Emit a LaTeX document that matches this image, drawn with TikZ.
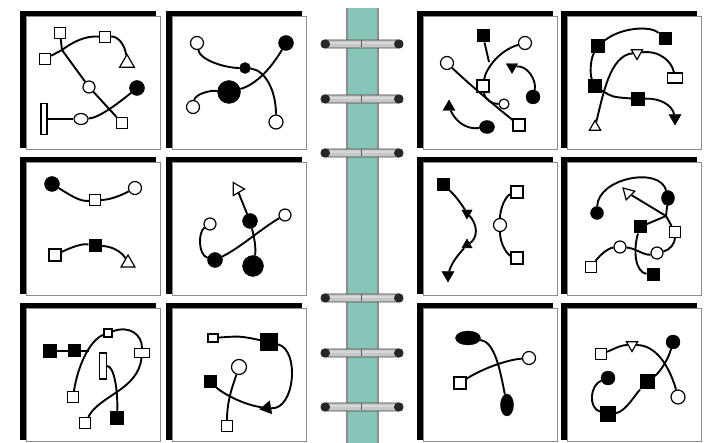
\documentclass[tikz,border=0pt]{standalone}
\usetikzlibrary{shapes.geometric}
\definecolor{spine}{HTML}{86C5B8}
\tikzset{
  cn/.style={line width=1.9pt},
  osq/.style={draw, fill=white, rectangle, minimum size=11pt, inner sep=0pt, line width=1.2pt},
  bsq/.style={draw, fill=black, rectangle, minimum size=12pt, inner sep=0pt, line width=1pt},
  oc/.style={draw, fill=white, circle, minimum size=12pt, inner sep=0pt, line width=1.2pt},
  bc/.style={draw, fill=black, circle, minimum size=13pt, inner sep=0pt},
  oel/.style={draw, fill=white, ellipse, inner sep=0pt, line width=1.2pt},
  bel/.style={draw, fill=black, ellipse, inner sep=0pt},
  otri/.style={draw, fill=white, regular polygon, regular polygon sides=3, minimum size=15pt, inner sep=0pt, line width=1.2pt},
  btri/.style={draw, fill=black, regular polygon, regular polygon sides=3, minimum size=15pt, inner sep=0pt},
}
\newcommand{\mypanel}[2]{%
  \fill[black] (#1,#2) rectangle ++(136,137);
  \draw[draw=black!45, fill=white, line width=1pt] ([shift={(6,6)}]#1,#2) rectangle ++(134,133);
}
\newcommand{\myring}[1]{%
  \draw[draw=black!75, fill=black!22, line width=0.9pt, rounded corners=3.5pt] (321,#1-4) rectangle (403,#1+4);
  \draw[white!85!black, line width=1.2pt] (330,#1-1) -- (394,#1-1);
  \fill[black!85] (325.5,#1) circle (4.5pt);
  \fill[black!85] (398.5,#1) circle (4.5pt);
  \draw[black!65, line width=0.8pt] (361,#1-3.5) -- (361,#1+3.5);
}
\begin{document}
\begin{tikzpicture}[x=1pt,y=-1pt]
\useasboundingbox (0,0) rectangle (707,443);
\fill[white] (0,0) rectangle (707,443);

% panels
\foreach \px in {20,166,417,561}{
  \foreach \py in {11,157,303}{
    \mypanel{\px}{\py}
  }
}

% spine and rings
\fill[spine] (347,8) rectangle (378,443);
\draw[black!45, line width=1.6pt] (347,8) -- (347,443) (378,8) -- (378,443);
\foreach \ry in {44,99,153,298,353,407}{\myring{\ry}}

% ---------- panel row1 col1
\node[osq] (a1) at (60,33) {};
\node[osq] (a2) at (45,59) {};
\node[osq] (a3) at (105,37) {};
\node[otri, minimum size=17pt] (a4) at (127,63) {};
\node[oc] (a5) at (89,87) {};
\node[bc, minimum size=15pt] (a6) at (137,88) {};
\node[oel, minimum width=14pt, minimum height=11pt] (a7) at (81,119) {};
\node[osq] (a8) at (122,123) {};
\node[osq, minimum width=6pt, minimum height=31pt] (a9) at (44,119) {};
\coordinate (aj) at (62,50);
\draw[cn] (a1) -- (aj) (a2) -- (aj) -- (a5) -- (a8);
\draw[cn] (aj) .. controls (78,38) and (90,36) .. (a3);
\draw[cn] (a3) .. controls (118,36) and (125,45) .. (a4);
\draw[cn] (a9) -- (a7);
\draw[cn] (a7) .. controls (98,118) and (115,106) .. (a6);

% ---------- panel row1 col2
\node[oc, minimum size=13pt] (b1) at (197,43) {};
\node[bc, minimum size=11pt] (b2) at (245,68) {};
\node[bc, minimum size=15pt] (b3) at (286,43) {};
\node[bc, minimum size=23pt] (b4) at (229,92) {};
\node[oc, minimum size=13pt] (b5) at (193,107) {};
\node[oc, minimum size=14pt] (b6) at (276,122) {};
\draw[cn] (b1) .. controls (200,60) and (225,68) .. (b2);
\draw[cn] (b2) .. controls (265,70) and (276,90) .. (b6);
\draw[cn] (b3) .. controls (270,70) and (255,85) .. (b4);
\draw[cn] (b4) .. controls (208,90) and (195,95) .. (b5);

% ---------- panel row1 col3
\node[bsq] (c1) at (483,36) {};
\node[oc, minimum size=13pt] (c2) at (525,43) {};
\node[oc, minimum size=13pt] (c3) at (447,63) {};
\node[btri, minimum size=13pt, shape border rotate=180] (c4) at (512,67) {};
\node[osq, minimum size=12pt] (c5) at (483,86) {};
\node[bc, minimum size=14pt] (c6) at (533,97) {};
\node[oc, minimum size=10pt] (c7) at (504,104) {};
\node[btri, minimum size=14pt] (c8) at (449,107) {};
\node[bel, minimum width=15pt, minimum height=13pt] (c9) at (487,127) {};
\node[osq, minimum size=12pt] (c10) at (519,125) {};
\coordinate (cj) at (489,62);
\draw[cn] (c2) .. controls (500,50) and (486,68) .. (c5);
\draw[cn] (c1) -- (cj);
\draw[cn] (c5) .. controls (485,100) and (492,104) .. (c7);
\draw[cn] (c3) .. controls (470,85) and (500,110) .. (c10);
\draw[cn] (c6) .. controls (537,80) and (527,65) .. (c4);
\draw[cn] (c9) .. controls (465,130) and (455,120) .. (c8);

% ---------- panel row1 col4
\node[bsq, minimum size=13pt] (d1) at (598,46) {};
\node[bsq] (d2) at (665,39) {};
\node[otri, minimum size=13pt, shape border rotate=180] (d3) at (637,53) {};
\node[osq, minimum width=15pt, minimum height=10pt] (d4) at (675,78) {};
\node[bsq, minimum size=13pt] (d5) at (595,86) {};
\node[bsq, minimum size=13pt] (d6) at (638,99) {};
\node[btri, minimum size=14pt, shape border rotate=180] (d7) at (675,118) {};
\node[otri, minimum size=13pt] (d8) at (595,127) {};
\draw[cn] (d1) .. controls (620,28) and (650,25) .. (d2);
\draw[cn] (d1) .. controls (590,60) and (590,75) .. (d5);
\draw[cn] (d8) .. controls (603,95) and (610,55) .. (d3);
\draw[cn] (d3) .. controls (660,50) and (672,62) .. (d4);
\draw[cn] (d5) .. controls (612,97) .. (d6);
\draw[cn] (d6) .. controls (660,98) and (672,105) .. (d7);

% ---------- panel row2 col1
\node[bc, minimum size=15pt] (e1) at (52,184) {};
\node[osq] (e2) at (95,200) {};
\node[oc, minimum size=13pt] (e3) at (135,188) {};
\node[osq, minimum size=12pt] (e4) at (55,255) {};
\node[bsq] (e5) at (95,246) {};
\node[otri, minimum size=16pt] (e6) at (128,263) {};
\draw[cn] (e1) .. controls (70,195) and (80,202) .. (e2);
\draw[cn] (e2) .. controls (110,200) and (122,195) .. (e3);
\draw[cn] (e4) .. controls (70,248) and (82,243) .. (e5);
\draw[cn] (e5) .. controls (112,246) and (122,252) .. (e6);

% ---------- panel row2 col2
\node[otri, minimum size=15pt, shape border rotate=30] (f1) at (237,189) {};
\node[bc, minimum size=15pt] (f2) at (250,221) {};
\node[oc, minimum size=12pt] (f3) at (285,215) {};
\node[oc, minimum size=12pt] (f4) at (210,224) {};
\node[bc, minimum size=15pt] (f5) at (215,260) {};
\node[bc, minimum size=21pt] (f6) at (253,266) {};
\draw[cn] (f2) -- (f1);
\draw[cn] (f2) .. controls (255,240) and (256,250) .. (f6);
\draw[cn] (f4) .. controls (198,232) and (198,255) .. (f5);
\draw[cn] (f5) .. controls (240,248) and (262,228) .. (f3);

% ---------- panel row2 col3
\node[bsq] (g1) at (443,185) {};
\node[btri, minimum size=12pt, shape border rotate=180] (g2) at (467,213) {};
\node[btri, minimum size=12pt] (g3) at (467,245) {};
\node[btri, minimum size=14pt, shape border rotate=180] (g4) at (448,275) {};
\node[osq, minimum size=12pt] (g5) at (517,192) {};
\node[oc, minimum size=13pt] (g6) at (500,225) {};
\node[osq, minimum size=12pt] (g7) at (517,258) {};
\draw[cn] (g1) .. controls (455,195) and (462,205) .. (g2);
\draw[cn] (g2) .. controls (478,225) and (478,238) .. (g3);
\draw[cn] (g3) .. controls (458,255) and (452,262) .. (g4);
\draw[cn] (g5) .. controls (505,196) and (500,210) .. (g6);
\draw[cn] (g6) .. controls (500,245) and (508,255) .. (g7);

% ---------- panel row2 col4
\node[bc, minimum size=13pt] (h1) at (597,213) {};
\node[otri, minimum size=14pt, shape border rotate=45] (h2) at (628,193) {};
\node[bel, minimum width=13pt, minimum height=15pt] (h3) at (668,198) {};
\node[bsq] (h4) at (640,227) {};
\node[osq] (h5) at (675,232) {};
\node[oc] (h6) at (620,247) {};
\node[oc] (h7) at (657,253) {};
\node[osq] (h8) at (591,267) {};
\node[bsq] (h9) at (653,275) {};
\coordinate (hj) at (666,216);
\draw[cn] (h1) .. controls (598,178) and (660,166) .. (h3);
\draw[cn] (h3) -- (hj) -- (h5);
\draw[cn] (h2) -- (hj);
\draw[cn] (h4) -- (hj);
\draw[cn] (h4) .. controls (633,250) and (635,272) .. (h9);
\draw[cn] (h8) .. controls (600,255) and (608,248) .. (h6);
\draw[cn] (h6) .. controls (635,248) and (645,256) .. (h7);
\draw[cn] (h7) .. controls (670,250) and (675,243) .. (h5);

% ---------- panel row3 col1
\node[bsq, minimum size=13pt] (k1) at (50,351) {};
\node[bsq] (k2) at (74,351) {};
\node[osq, minimum size=8pt] (k3) at (108,333) {};
\node[osq, minimum width=15pt, minimum height=9pt] (k4) at (142,353) {};
\node[osq, minimum width=7pt, minimum height=26pt] (k5) at (103,366) {};
\node[osq] (k6) at (73,397) {};
\node[osq] (k7) at (85,423) {};
\node[bsq, minimum size=13pt] (k8) at (117,418) {};
\coordinate (kj) at (89,351);
\draw[cn] (k1) -- (k2) -- (kj);
\draw[cn] (k6) .. controls (78,365) and (90,340) .. (k3);
\draw[cn] (k3) .. controls (130,325) and (142,335) .. (k4);
\draw[cn] (k4) .. controls (138,390) and (100,395) .. (k7);
\draw[cn] (k5) .. controls (114,366) and (118,390) .. (k8);

% ---------- panel row3 col2
\node[osq, minimum width=10pt, minimum height=8pt] (m1) at (213,338) {};
\node[bsq, minimum size=17pt] (m2) at (269,342) {};
\node[oc, minimum size=15pt] (m3) at (239,367) {};
\node[bsq] (m4) at (210,382) {};
\node[btri, minimum size=15pt, shape border rotate=100] (m5) at (267,408) {};
\node[osq] (m6) at (227,426) {};
\draw[cn] (m1) .. controls (240,336) .. (m2);
\draw[cn] (m2) .. controls (300,350) and (295,410) .. (m5);
\draw[cn] (m4) .. controls (225,395) and (245,405) .. (m5);
\draw[cn] (m3) .. controls (233,385) and (227,400) .. (m6);

% ---------- panel row3 col3
\node[bel, minimum width=25pt, minimum height=14pt] (n1) at (468,338) {};
\node[oc, minimum size=13pt] (n2) at (529,358) {};
\node[osq, minimum size=12pt] (n3) at (460,383) {};
\node[bel, minimum width=13pt, minimum height=22pt] (n4) at (507,405) {};
\draw[cn] (n1) .. controls (495,342) and (500,370) .. (n4);
\draw[cn] (n3) .. controls (480,370) and (505,360) .. (n2);

% ---------- panel row3 col4
\node[osq] (q1) at (601,354) {};
\node[otri, minimum size=13pt, shape border rotate=180] (q2) at (632,345) {};
\node[bc, minimum size=14pt] (q3) at (673,342) {};
\node[bc, minimum size=14pt] (q4) at (608,378) {};
\node[bsq, minimum size=14pt] (q5) at (647,382) {};
\node[oc, minimum size=14pt] (q6) at (678,397) {};
\node[bsq, minimum size=15pt] (q7) at (608,414) {};
\draw[cn] (q1) .. controls (612,350) and (620,345) .. (q2);
\draw[cn] (q2) .. controls (660,345) and (672,375) .. (q6);
\draw[cn] (q3) .. controls (668,360) and (660,372) .. (q5);
\draw[cn] (q5) .. controls (635,395) and (625,412) .. (q7);
\draw[cn] (q4) .. controls (590,385) and (588,408) .. (q7);
\end{tikzpicture}
\end{document}
